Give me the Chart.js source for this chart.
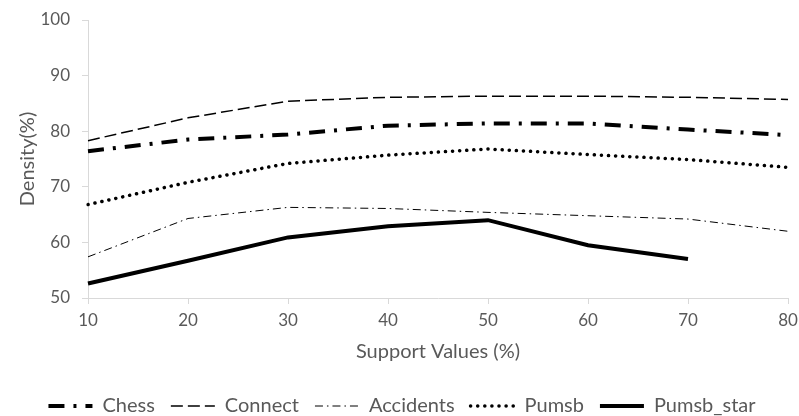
<!DOCTYPE html>
<html>
<head>
<meta charset="utf-8">
<script src="https://cdn.jsdelivr.net/npm/chart.js@4.4.1/dist/chart.umd.min.js"></script>
<style>
html,body{margin:0;padding:0;background:#fff;}
#wrap{width:799px;height:416px;position:relative;}
</style>
</head>
<body>
<div id="wrap"><canvas id="c" width="799" height="416"></canvas></div>
<script>
const supportValues = ['10','20','30','40','50','60','70','80'];
const chess      = [76.4, 78.5, 79.4, 81.0, 81.4, 81.4, 80.3, 79.3];
const connect    = [78.3, 82.4, 85.4, 86.1, 86.3, 86.3, 86.1, 85.7];
const accidents  = [57.4, 64.3, 66.3, 66.1, 65.4, 64.8, 64.2, 62.0];
const pumsb      = [66.8, 70.8, 74.2, 75.7, 76.8, 75.8, 74.9, 73.5];
const pumsbStar  = [52.6, 56.7, 60.9, 62.9, 64.0, 59.5, 57.0, null];
const yTicks     = [50, 60, 70, 80, 90, 100];

const FONT = 'Lato, "Liberation Sans", sans-serif';
const GRAY = '#595959';
const AXIS = '#d9d9d9';

function ds(label, data, width, dash, cap) {
  return {
    label, data,
    borderColor: '#000', backgroundColor: '#000',
    borderWidth: width, borderDash: dash, borderCapStyle: cap || 'butt',
    pointRadius: 0, pointHoverRadius: 0, pointStyle: 'line',
    tension: 0, fill: false, spanGaps: false
  };
}

function noPad(scale) {
  scale.paddingLeft = 0; scale.paddingRight = 0;
  scale.paddingTop = 0; scale.paddingBottom = 0;
}

new Chart(document.getElementById('c'), {
  type: 'line',
  data: {
    labels: supportValues,
    datasets: [
      ds('Chess', chess, 4, [16, 9, 3, 9]),
      ds('Connect', connect, 1.5, [12, 5]),
      ds('Accidents', accidents, 1, [8, 4, 1.5, 4]),
      ds('Pumsb', pumsb, 3.5, [0.1, 7], 'round'),
      ds('Pumsb_star', pumsbStar, 4, [])
    ]
  },
  options: {
    responsive: false,
    animation: false,
    devicePixelRatio: 1,
    layout: { padding: { left: 16, right: 11, top: 20, bottom: -10 } },
    plugins: {
      tooltip: { enabled: false },
      legend: {
        position: 'bottom',
        labels: {
          usePointStyle: true,
          pointStyleWidth: 44,
          boxHeight: 10,
          padding: 16,
          color: GRAY,
          font: { family: FONT, size: 20 },
          generateLabels(chart) {
            return chart.data.datasets.map((d, i) => ({
              text: d.label,
              fillStyle: d.borderColor,
              strokeStyle: d.borderColor,
              lineWidth: d.borderWidth,
              lineDash: d.borderDash,
              lineCap: d.borderCapStyle,
              pointStyle: 'line',
              fontColor: GRAY,
              hidden: false,
              datasetIndex: i
            }));
          }
        }
      }
    },
    scales: {
      x: {
        type: 'category',
        offset: false,
        grid: { display: true, drawOnChartArea: false, drawTicks: true, tickLength: 6, color: AXIS },
        border: { display: true, color: AXIS, width: 1 },
        ticks: { color: GRAY, font: { family: FONT, size: 17 }, padding: 6, maxRotation: 0 },
        title: { display: true, text: 'Support Values (%)', color: GRAY, font: { family: FONT, size: 20 }, padding: { top: 0, bottom: 16 } },
        afterFit(scale) { scale.height = 82; noPad(scale); }
      },
      y: {
        min: 50, max: 100,
        afterBuildTicks(scale) { scale.ticks = yTicks.map(v => ({ value: v })); },
        grid: { display: true, drawOnChartArea: false, drawTicks: true, tickLength: 6, color: AXIS },
        border: { display: true, color: AXIS, width: 1 },
        ticks: { color: GRAY, font: { family: FONT, size: 17 }, padding: 12 },
        title: { display: true, text: 'Density(%)', color: GRAY, font: { family: FONT, size: 20 }, padding: 0 },
        afterFit(scale) { scale.width = 72; noPad(scale); }
      }
    }
  }
});
</script>
</body>
</html>
